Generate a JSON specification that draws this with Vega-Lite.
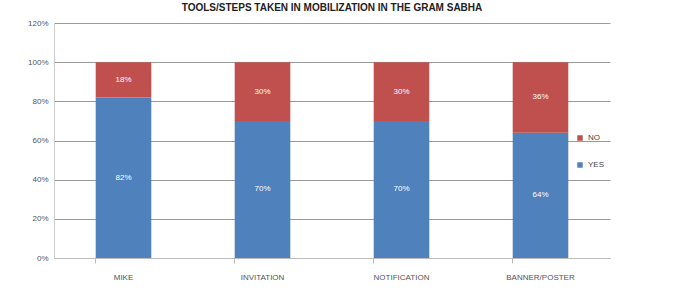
{
  "$schema": "https://vega.github.io/schema/vega-lite/v6.json",
  "width": 556,
  "height": 235,
  "autosize": {"type": "none"},
  "padding": {"left": 54, "top": 23, "right": 67, "bottom": 33},
  "background": "white",
  "title": {
    "text": "TOOLS/STEPS TAKEN IN MOBILIZATION IN THE GRAM SABHA",
    "fontSize": 10,
    "font": "Liberation Sans",
    "fontWeight": "bold",
    "color": "#222222",
    "anchor": "middle",
    "frame": "group",
    "offset": -4,
    "baseline": "bottom"
  },
  "data": {
    "values": [
      {"cat": "MIKE", "resp": "YES", "value": 0.82, "ord": 1},
      {"cat": "MIKE", "resp": "NO", "value": 0.18, "ord": 2},
      {"cat": "INVITATION", "resp": "YES", "value": 0.70, "ord": 1},
      {"cat": "INVITATION", "resp": "NO", "value": 0.30, "ord": 2},
      {"cat": "NOTIFICATION", "resp": "YES", "value": 0.70, "ord": 1},
      {"cat": "NOTIFICATION", "resp": "NO", "value": 0.30, "ord": 2},
      {"cat": "BANNER/POSTER", "resp": "YES", "value": 0.64, "ord": 1},
      {"cat": "BANNER/POSTER", "resp": "NO", "value": 0.36, "ord": 2}
    ]
  },
  "transform": [
    {"stack": "value", "groupby": ["cat"], "sort": [{"field": "ord", "order": "ascending"}], "as": ["y0", "y1"]},
    {"calculate": "(datum.y0 + datum.y1) / 2", "as": "ymid"}
  ],
  "encoding": {
    "x": {
      "field": "cat",
      "type": "nominal",
      "sort": ["MIKE", "INVITATION", "NOTIFICATION", "BANNER/POSTER"],
      "scale": {"paddingInner": 0.6, "paddingOuter": 0.3},
      "axis": {
        "title": null,
        "labelAngle": 0,
        "labelFont": "Liberation Sans",
        "labelFontSize": 8,
        "labelColor": "#555555",
        "labelPadding": 10,
        "domainColor": "#bbbbbb",
        "tickColor": "#bbbbbb",
        "tickSize": 5,
        "bandPosition": 0,
        "grid": false
      }
    }
  },
  "layer": [
    {
      "mark": {"type": "bar"},
      "encoding": {
        "y": {
          "field": "y0",
          "type": "quantitative",
          "scale": {"domain": [0, 1.2]},
          "axis": {
            "title": null,
            "format": "%",
            "values": [0, 0.2, 0.4, 0.6, 0.8, 1.0, 1.2],
            "labelOverlap": false,
            "labelFont": "Liberation Sans",
            "labelFontSize": 8,
            "labelColor": "#555555",
            "labelPadding": 6,
            "ticks": false,
            "domainColor": "#cccccc",
            "gridColor": "#999999",
            "gridWidth": 1.2
          }
        },
        "y2": {"field": "y1"},
        "color": {
          "field": "resp",
          "type": "nominal",
          "scale": {"domain": ["NO", "YES"], "range": ["#C0504D", "#4F81BD"]},
          "legend": {
            "title": null,
            "orient": "none",
            "legendX": 522,
            "legendY": 111,
            "symbolType": "square",
            "symbolSize": 30,
            "symbolStrokeWidth": 0,
            "labelFont": "Liberation Sans",
            "labelFontSize": 8,
            "labelColor": "#444444",
            "rowPadding": 19
          }
        }
      }
    },
    {
      "mark": {"type": "text", "color": "white", "font": "Liberation Sans", "fontSize": 8, "baseline": "middle"},
      "encoding": {
        "y": {
          "field": "ymid",
          "type": "quantitative",
          "axis": {
            "title": null,
            "format": "%",
            "values": [0, 0.2, 0.4, 0.6, 0.8, 1.0, 1.2],
            "labelOverlap": false,
            "labelFont": "Liberation Sans",
            "labelFontSize": 8,
            "labelColor": "#555555",
            "labelPadding": 6,
            "ticks": false,
            "domainColor": "#cccccc",
            "gridColor": "#999999",
            "gridWidth": 1.2
          }
        },
        "text": {"field": "value", "type": "quantitative", "format": ".0%"}
      }
    }
  ],
  "config": {"view": {"stroke": null}}
}
